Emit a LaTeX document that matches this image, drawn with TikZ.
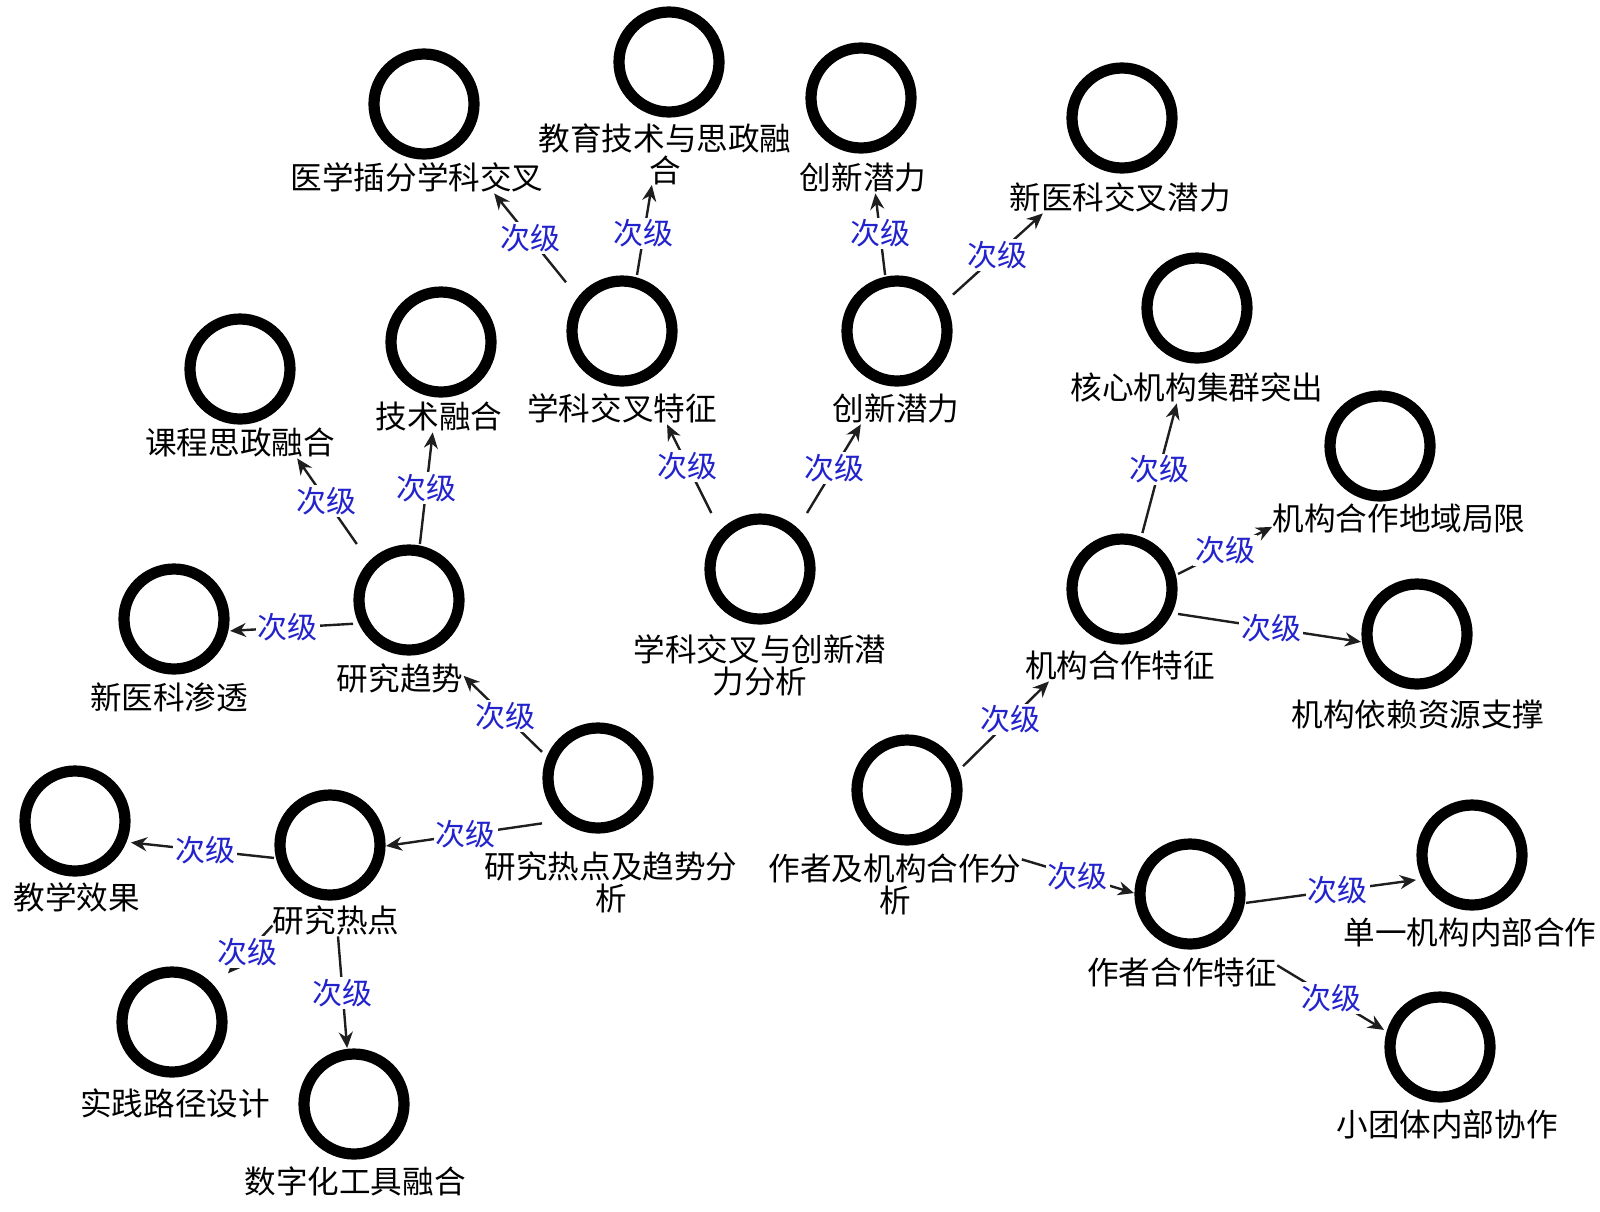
\documentclass[tikz,border=0pt]{standalone}
\usepackage{fontspec}
\newfontfamily\cjk{Noto Sans CJK SC}
\usetikzlibrary{arrows.meta}
\definecolor{lblblue}{RGB}{35,35,205}
\definecolor{edgegray}{RGB}{30,30,30}
\begin{document}
\begin{tikzpicture}[x=0.5pt,y=-0.5pt,
  ring/.style={rectangle, minimum size=56pt, inner sep=0pt, outer sep=0pt,
     path picture={\draw[line width=5.6pt] (path picture bounding box.center) circle[radius=25pt];}},
  nm/.style={font=\cjk\fontsize{15.8}{16}\selectfont, inner sep=0pt, minimum height=16pt, align=center},
  arr/.style={draw=edgegray, line width=1.2pt, -{Stealth[length=8pt,width=7pt]}},
  lbl/.style={font=\cjk\fontsize{15}{15}\selectfont, text=lblblue, fill=white, inner sep=1pt}]
\useasboundingbox (0,0) rectangle (1600,1211);
% --- group A ---
\node[ring] (a0) at (760,569) {};
\node[nm] (a0t) at (760,665) {学科交叉与创新潜\\力分析};
\node[ring] (a1) at (622,331) {};
\node[nm] (a1t) at (622,408) {学科交叉特征};
\node[ring] (a2) at (897,331) {};
\node[nm] (a2t) at (896,408) {创新潜力};
\node[ring] (a11) at (424,104) {};
\node[nm] (a11t) at (417,177) {医学插分学科交叉};
\node[ring] (a12) at (669,62) {};
\node[nm] (a12t) at (665,154) {教育技术与思政融\\合};
\node[ring] (a21) at (861,98) {};
\node[nm] (a21t) at (863,177) {创新潜力};
\node[ring] (a22) at (1122,118) {};
\node[nm] (a22t) at (1120,197) {新医科交叉潜力};
% --- group B ---
\node[ring] (b0) at (598,778) {};
\node[nm] (b0t) at (611,882) {研究热点及趋势分\\析};
\node[ring] (b1) at (409,600) {};
\node[nm] (b1t) at (400,678) {研究趋势};
\node[ring] (b2) at (330,845) {};
\node[nm] (b2t) at (336,920) {研究热点};
\node[ring] (b11) at (240,369) {};
\node[nm] (b11t) at (240,442) {课程思政融合};
\node[ring] (b12) at (441,342) {};
\node[nm] (b12t) at (439,416) {技术融合};
\node[ring] (b13) at (174,619) {};
\node[nm] (b13t) at (169,697) {新医科渗透};
\node[ring] (b21) at (75,821) {};
\node[nm] (b21t) at (77,897) {教学效果};
\node[ring] (b22) at (172,1022) {};
\node[nm] (b22t) at (175,1103) {实践路径设计};
\node[ring] (b23) at (354,1104) {};
\node[nm] (b23t) at (355,1181) {数字化工具融合};
% --- group C ---
\node[ring] (c0) at (907,790) {};
\node[nm] (c0t) at (895,884) {作者及机构合作分\\析};
\node[ring] (c1) at (1122,589) {};
\node[nm] (c1t) at (1120,665) {机构合作特征};
\node[ring] (c2) at (1190,894) {};
\node[nm] (c2t) at (1182,972) {作者合作特征};
\node[ring] (c11) at (1197,308) {};
\node[nm] (c11t) at (1197,387) {核心机构集群突出};
\node[ring] (c12) at (1380,446) {};
\node[nm] (c12t) at (1399,518) {机构合作地域局限};
\node[ring] (c13) at (1417,634) {};
\node[nm] (c13t) at (1418,715) {机构依赖资源支撑};
\node[ring] (c21) at (1472,855) {};
\node[nm] (c21t) at (1470,932) {单一机构内部合作};
\node[ring] (c22) at (1440,1047) {};
\node[nm] (c22t) at (1447,1124) {小团体内部协作};
% --- connectors ---
\draw[arr] (a0.131) -- (a1t.-20) node[lbl,pos=.53]{次级};
\draw[arr] (a0.50) -- (a2t.205) node[lbl,pos=.51]{次级};
\draw[arr] (a1.139) -- (a11t.-12) node[lbl,pos=.5]{次级};
\draw[arr] (a1.75) -- (a12t.247) node[lbl,pos=.46]{次级};
\draw[arr] (a2.102) -- (a21t.-53) node[lbl,pos=.51]{次级};
\draw[arr] (a2.33) -- (a22t.192) node[lbl,pos=.49]{次级};
\draw[arr] (b0.155) -- (b1t.2) node[lbl,pos=.47]{次级};
\draw[arr] (b0.219) -- (b2.-1) node[lbl,pos=.49]{次级};
\draw[arr] (b1.133) -- (b11t.-16) node[lbl,pos=.5]{次级};
\draw[arr] (b1.79) -- (b12t.249) node[lbl,pos=.5]{次级};
\draw[arr] (b1.203) -- (b13.-12) node[lbl,pos=.53]{次级};
\draw[arr] (b2.193) -- (b21.-21) node[lbl,pos=.48]{次级};
\draw[arr] (b2t.185) -- (b22.41) node[lbl,pos=.55]{次级};
\draw[arr] (b2t.-83) -- (b23.97) node[lbl,pos=.51]{次级};
\draw[arr] (c0.23) -- (c1t.193) node[lbl,pos=.55]{次级};
\draw[arr] (c0t.11) -- (c2.179) node[lbl,pos=.5]{次级};
\draw[arr] (c1.70) -- (c11t.219) node[lbl,pos=.49]{次级};
\draw[arr] (c1.15) -- (c12t.184) node[lbl,pos=.5]{次级};
\draw[arr] (c1.-24) -- (c13.188) node[lbl,pos=.51]{次级};
\draw[arr] (c2.-9) -- (c21.204) node[lbl,pos=.54]{次级};
\draw[arr] (c2t.4) -- (c22.163) node[lbl,pos=.51]{次级};
\end{tikzpicture}
\end{document}
